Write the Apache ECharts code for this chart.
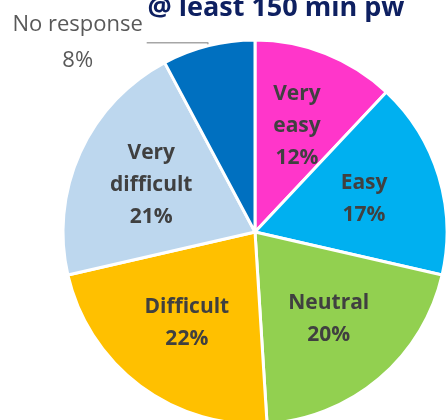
<!DOCTYPE html>
<html>
<head>
<meta charset="utf-8">
<script src="https://cdn.jsdelivr.net/npm/echarts@6/dist/echarts.min.js"></script>
<style>
html,body{margin:0;padding:0;background:#fff;}
#chart{width:447px;height:420px;}
</style>
</head>
<body>
<div id="chart"></div>
<script>
var categories = ['Very easy', 'Easy', 'Neutral', 'Difficult', 'Very difficult', 'No response'];
var labelNames = ['Very\neasy', 'Easy', 'Neutral', 'Difficult', 'Very\ndifficult', 'No response'];
var values = [12, 16.6, 20.4, 22.4, 20.8, 7.8];
var colors = ['#FF36CA', '#00B0F0', '#92D050', '#FFC000', '#BDD7EE', '#0070C0'];
var titleText = '@ least 150 min pw';

var FONT = '"Open Sans", "Noto Sans", sans-serif';

var chart = echarts.init(document.getElementById('chart'));

var mainData = categories.map(function (c, i) {
  var item = { name: c, value: values[i], itemStyle: { color: colors[i] } };
  if (i === categories.length - 1) {
    item.label = {
      show: true,
      position: 'outside',
      distanceToLabelLine: 2,
      formatter: function (p) { return '{a|' + p.name + '}\n{a|' + Math.round(p.percent) + '%}'; },
      rich: {
        a: { fontFamily: FONT, fontSize: 22, lineHeight: 36, color: '#595959', width: 134, align: 'center' }
      }
    };
    item.labelLine = { show: true, length: 3, length2: 61, lineStyle: { color: '#A6A6A6', width: 1.5 } };
  } else {
    item.label = { show: false };
    item.labelLine = { show: false };
  }
  return item;
});

var overlayData = categories.map(function (c, i) {
  return {
    name: c,
    value: values[i],
    label: { show: i !== categories.length - 1 }
  };
});

chart.setOption({
  animation: false,
  graphic: [{
    type: 'text',
    x: 276,
    y: 8,
    style: {
      text: titleText,
      fill: '#0E2061',
      font: 'bold 27px ' + FONT,
      textAlign: 'center',
      textVerticalAlign: 'middle'
    }
  }],
  series: [
    {
      type: 'pie',
      center: [255, 232],
      radius: 192,
      startAngle: 90,
      clockwise: true,
      avoidLabelOverlap: false,
      itemStyle: { borderColor: '#ffffff', borderWidth: 3 },
      emphasis: { disabled: true },
      data: mainData
    },
    {
      type: 'pie',
      center: [255, 232],
      radius: 222,
      startAngle: 90,
      clockwise: true,
      silent: true,
      avoidLabelOverlap: false,
      itemStyle: { color: 'rgba(0,0,0,0)', borderWidth: 0 },
      emphasis: { disabled: true },
      label: {
        show: true,
        position: 'inside',
        fontFamily: FONT,
        fontSize: 21,
        fontWeight: 'bold',
        lineHeight: 32,
        color: '#404040',
        align: 'center',
        formatter: function (p) {
          return labelNames[p.dataIndex] + '\n' + Math.round(p.percent) + '%';
        }
      },
      labelLine: { show: false },
      data: overlayData
    }
  ]
});
</script>
</body>
</html>
